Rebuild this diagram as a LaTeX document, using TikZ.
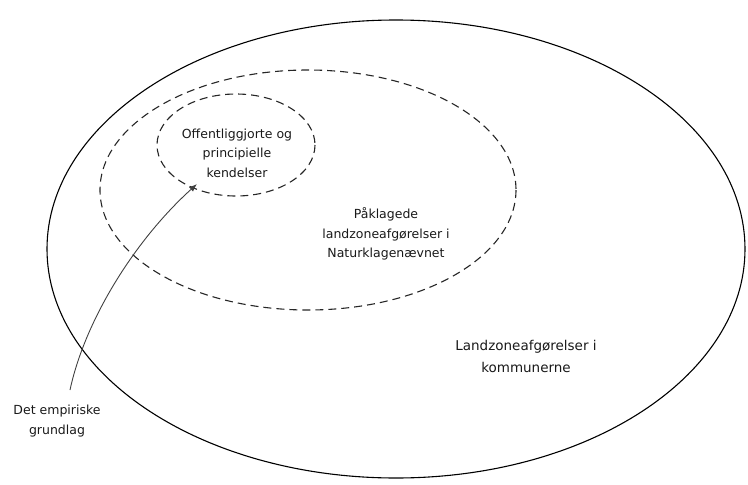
\documentclass[tikz,border=0pt]{standalone}
\usepackage{fontspec}
\setmainfont{DejaVu Sans}
\usetikzlibrary{arrows.meta}
\begin{document}
\begin{tikzpicture}[x=1pt,y=-1pt,
  region/.style={draw=black, line width=1.1pt},
  subregion/.style={draw=black!85, line width=1.1pt, dash pattern=on 8pt off 5pt},
  label/.style={align=center, font=\fontsize{12.5}{19.5}\selectfont, text=black!90},
  biglabel/.style={align=center, font=\fontsize{13.5}{22}\selectfont, text=black!90},
  pointer/.style={draw=black!75, line width=0.9pt, -{Latex[length=8pt,width=6pt]}}]
\useasboundingbox (0,0) rectangle (748,485);
% nested regions
\draw[region] (396,249) ellipse [x radius=349, y radius=229];
\draw[subregion] (308,190) ellipse [x radius=208, y radius=120];
\draw[subregion] (236,145) ellipse [x radius=79, y radius=51];
% labels
\node[label] (pub) at (237,153) {Offentliggjorte og\\principielle\\kendelser};
\node[label] (nkn) at (386,234) {Påklagede\\landzoneafgørelser i\\Naturklagenævnet};
\node[biglabel] (kom) at (526,356) {Landzoneafgørelser i\\kommunerne};
\node[label] (emp) at (57,421) {Det empiriske\\grundlag};
\coordinate (start) at (70,390);
\coordinate (tip) at (197,184);
\draw[pointer] (start) .. controls (85,320) and (135,240) .. (tip);
\end{tikzpicture}
\end{document}
